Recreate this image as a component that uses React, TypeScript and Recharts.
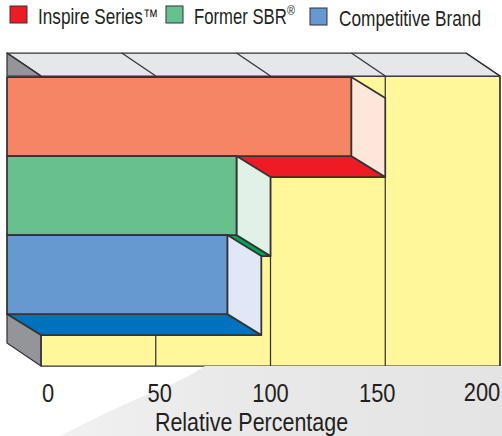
import { BarChart, Bar, XAxis, YAxis, CartesianGrid, Legend, usePlotArea } from "recharts";

const categories = ["Inspire Series", "Former SBR", "Competitive Brand"];
const categoryMarks = ["™", "®", ""];
const values = [150, 100, 96];
const ticks = [0, 50, 100, 150, 200];

const frontColors = ["#F68565", "#66C18E", "#6699D0"];
const sideColors = ["#FEE6DA", "#E2F1E8", "#E1E7F6"];
const bottomColors = ["#ED1C24", "#00A651", "#0071BC"];
const legendColors = ["#ED1C24", "#66C18E", "#6699D0"];

const legendSwatchX = [10, 166, 310];
const legendTextX = [38, 194, 339];
const legendTextWidth = [105, 93, 142];
const legendTextScale = [0.78, 0.76, 0.785];
const legendBaseline = [24, 24, 26];
const tickNudge = [7, 4, 0, -8, -18];

const data = categories.map((name, i) => ({ name, value: values[i] }));

const DX = 34;
const DY = 21;
const LINE = "#333";
const INK = "#231F20";
const FONT = "'Liberation Sans', sans-serif";

// no narrow font installed, so squeeze Liberation Sans horizontally
function Squeezed({ x, y, scale, size, anchor, children }: any) {
  return (
    <text
      transform={`translate(${x} ${y}) scale(${scale} 1)`}
      textAnchor={anchor}
      fontFamily={FONT}
      fontSize={size}
      fill={INK}
    >
      {children}
    </text>
  );
}

// backdrop swoosh only, the walls have to sit under the grid lines
function Backdrop() {
  const area = usePlotArea();
  if (!area) return null;
  return (
    <g>
      <defs>
        <linearGradient id="swoosh" x1="0" y1="0" x2="1" y2="0">
          <stop offset="0" stopColor="#F1F1F1" />
          <stop offset="0.4" stopColor="#E9E9E9" />
          <stop offset="1" stopColor="#E4E4E4" />
        </linearGradient>
      </defs>
      <path d="M60 436 Q120 405 170 385 Q190 376 205 366 L502 366 L502 436 Z" fill="url(#swoosh)" />
    </g>
  );
}

function gridLine(props: any) {
  const { x1, y1, y2, index, x, width } = props;
  const top = y1 - 24;
  const backTop = top + 23;
  const backBottom = y2 + 52;
  return (
    <g key={`grid-${index}`} stroke={LINE} strokeWidth={1.25} strokeLinejoin="round">
      {index === 0 && (
        <g>
          <rect x={x + DX} y={backTop} width={width} height={backBottom - backTop} fill="#FFF799" />
          <polygon
            points={`${x},${top} ${x + width},${top} ${x + width + DX},${backTop} ${x + DX},${backTop}`}
            fill="#E6E7E8"
          />
          <polygon points={`${x},${top} ${x + DX},${backTop} ${x},${backTop}`} fill="#939598" />
          <polygon
            points={`${x},${y2} ${x + DX},${y2 + DY} ${x + DX},${backBottom} ${x},${y2 + 29}`}
            fill="#939598"
          />
        </g>
      )}
      <line x1={x1} y1={top} x2={x1 + DX} y2={backTop} />
      <line x1={x1 + DX} y1={backTop} x2={x1 + DX} y2={backBottom} />
    </g>
  );
}

function Bar3D(props: any) {
  const { x, y, width, height, index } = props;
  const xr = x + width;
  const yb = y + height;
  return (
    <g stroke={LINE} strokeWidth={1.75} strokeLinejoin="round">
      <polygon
        points={`${x},${yb} ${xr},${yb} ${xr + DX},${yb + DY} ${x + DX},${yb + DY}`}
        fill={bottomColors[index]}
      />
      <polygon
        points={`${xr},${y} ${xr + DX},${y + DY} ${xr + DX},${yb + DY} ${xr},${yb}`}
        fill={sideColors[index]}
      />
      <rect x={x} y={y} width={width} height={height} fill={frontColors[index]} />
    </g>
  );
}

function AxisTick(props: any) {
  const { x, y, payload, index } = props;
  return (
    <Squeezed
      x={x + DX + tickNudge[index]}
      y={y + 80 - (index === 4 ? 1 : 0)}
      scale={0.875}
      size={25}
      anchor="middle"
    >
      {payload.value}
    </Squeezed>
  );
}

function AxisTitle({ viewBox }: any) {
  return (
    <Squeezed x={viewBox.x + viewBox.width / 2 + 15} y={viewBox.y + 117} scale={0.825} size={26} anchor="middle">
      Relative Percentage
    </Squeezed>
  );
}

function LegendRow() {
  return (
    <svg width={502} height={40} style={{ display: "block" }}>
      {categories.map((name, i) => (
        <g key={name}>
          <rect
            x={legendSwatchX[i]}
            y={legendBaseline[i] - 18}
            width={17}
            height={17}
            fill={legendColors[i]}
            stroke={LINE}
            strokeWidth={1}
          />
          <Squeezed x={legendTextX[i]} y={legendBaseline[i]} scale={legendTextScale[i]} size={22}>
            {name}
          </Squeezed>
          {categoryMarks[i] === "™" && (
            <Squeezed x={legendTextX[i] + legendTextWidth[i]} y={legendBaseline[i] - 1} scale={0.76} size={20}>
              ™
            </Squeezed>
          )}
          {categoryMarks[i] === "®" && (
            <Squeezed x={legendTextX[i] + legendTextWidth[i]} y={legendBaseline[i] - 9} scale={0.9} size={12}>
              ®
            </Squeezed>
          )}
        </g>
      ))}
    </svg>
  );
}

export default function App() {
  return (
    <div style={{ position: "absolute", left: 0, top: 0, width: 502, height: 436, background: "#fff" }}>
      <BarChart
        width={502}
        height={436}
        data={data}
        layout="vertical"
        barCategoryGap={0}
        margin={{ top: 37, right: 36, bottom: 0, left: 7 }}
      >
        <Backdrop />
        <CartesianGrid horizontal={false} vertical={gridLine} />
        <Legend
          verticalAlign="top"
          align="left"
          height={40}
          content={<LegendRow />}
          wrapperStyle={{ left: 0, top: 0, width: 502 }}
        />
        <XAxis
          type="number"
          domain={[0, 200]}
          ticks={ticks}
          interval={0}
          height={122}
          axisLine={false}
          tickLine={false}
          tick={AxisTick}
          label={<AxisTitle />}
        />
        <YAxis type="category" dataKey="name" hide />
        <Bar dataKey="value" shape={Bar3D} isAnimationActive={false} />
      </BarChart>
    </div>
  );
}
